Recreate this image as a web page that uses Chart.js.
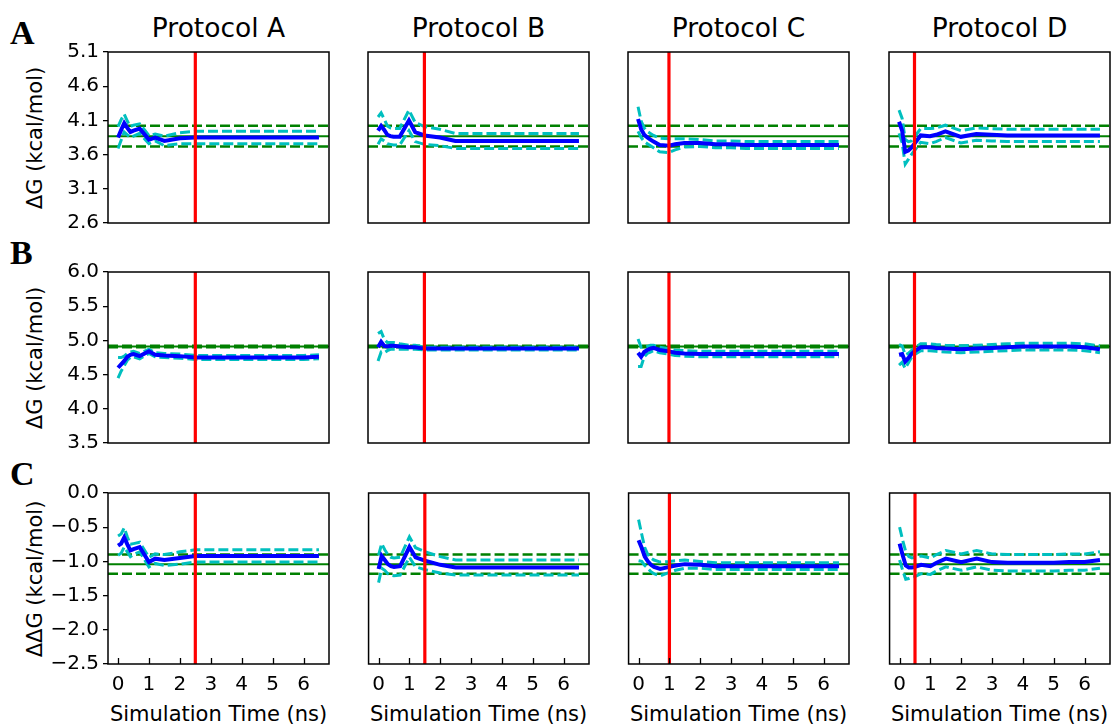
<!DOCTYPE html>
<html>
<head>
<meta charset="utf-8">
<script src="https://cdn.jsdelivr.net/npm/chart.js"></script>
<style>
  html, body { margin: 0; padding: 0; background: #fff; overflow: hidden; }
  #fig { position: relative; width: 1111px; height: 728px; font-family: "DejaVu Sans", sans-serif; color: #000; }
  .cv { position: absolute; }
  .title { position: absolute; font-size: 26.5px; line-height: 26px; text-align: center; width: 221px; white-space: nowrap; }
  .xlab { position: absolute; font-size: 21px; line-height: 20px; text-align: center; width: 260px; white-space: nowrap; }
  .ylab { position: absolute; font-size: 21px; line-height: 20px; white-space: nowrap; transform: translate(-50%, -50%) rotate(-90deg); }
  .letter { position: absolute; font-family: "Liberation Serif", serif; font-weight: bold; font-size: 34px; line-height: 34px; }
</style>
</head>
<body>
<div id="fig"></div>
<script>
// sampling times (ns)
var times = [0, 0.1, 0.2, 0.3, 0.4, 0.5, 0.7, 1.0, 1.2, 1.5, 2.0, 2.5, 3.0, 3.5, 4.0, 4.5, 5.0, 5.5, 6.0, 6.5];

var protocols = ['Protocol A', 'Protocol B', 'Protocol C', 'Protocol D'];
var rowLetters = ['A', 'B', 'C'];
var yTitles = ['\u0394G (kcal/mol)', '\u0394G (kcal/mol)', '\u0394\u0394G (kcal/mol)'];
var xTitle = 'Simulation Time (ns)';

// equilibration cut-off per protocol (red line)
var cutoffs = [2.5, 1.5, 1.0, 0.5];
// reference value and its error per row (green lines)
var refValues = [3.87, 4.91, -1.04];
var refErrors = [0.15, 0.01, 0.14];

var xTicks = [0, 1, 2, 3, 4, 5, 6];
var yTicksA = [2.6, 3.1, 3.6, 4.1, 4.6, 5.1];
var yTicksB = [3.5, 4.0, 4.5, 5.0, 5.5, 6.0];
var yTicksC = [-2.5, -2.0, -1.5, -1.0, -0.5, 0.0];

// row A
var meanA_pA = [3.85, 3.96, 4.06, 3.99, 3.93, 3.95, 3.98, 3.82, 3.85, 3.80, 3.84, 3.85, 3.85, 3.85, 3.85, 3.85, 3.85, 3.85, 3.85, 3.85];
var errA_pA  = [0.16, 0.15, 0.13, 0.10, 0.08, 0.08, 0.07, 0.06, 0.05, 0.07, 0.08, 0.09, 0.09, 0.09, 0.09, 0.09, 0.09, 0.09, 0.09, 0.09];
var meanA_pB = [3.95, 4.02, 3.96, 3.89, 3.87, 3.86, 3.86, 4.10, 3.93, 3.88, 3.85, 3.80, 3.80, 3.80, 3.80, 3.80, 3.80, 3.80, 3.80, 3.80];
var errA_pB  = [0.20, 0.19, 0.16, 0.13, 0.12, 0.12, 0.12, 0.15, 0.14, 0.13, 0.12, 0.11, 0.11, 0.11, 0.11, 0.11, 0.11, 0.11, 0.11, 0.11];
var meanA_pC = [4.12, 3.97, 3.89, 3.85, 3.82, 3.79, 3.74, 3.73, 3.75, 3.77, 3.77, 3.75, 3.75, 3.74, 3.74, 3.74, 3.74, 3.74, 3.74, 3.74];
var errA_pC  = [0.18, 0.12, 0.10, 0.09, 0.09, 0.09, 0.10, 0.10, 0.08, 0.06, 0.05, 0.05, 0.05, 0.05, 0.05, 0.05, 0.05, 0.05, 0.05, 0.05];
var meanA_pD = [4.08, 3.95, 3.64, 3.66, 3.70, 3.76, 3.88, 3.87, 3.89, 3.94, 3.86, 3.90, 3.89, 3.88, 3.88, 3.88, 3.88, 3.88, 3.88, 3.88];
var errA_pD  = [0.17, 0.18, 0.18, 0.13, 0.10, 0.10, 0.10, 0.11, 0.10, 0.09, 0.09, 0.09, 0.09, 0.09, 0.09, 0.09, 0.09, 0.09, 0.09, 0.09];

// row B
var meanB_pA = [4.60, 4.65, 4.70, 4.76, 4.79, 4.80, 4.77, 4.84, 4.79, 4.78, 4.77, 4.75, 4.75, 4.75, 4.75, 4.75, 4.75, 4.75, 4.75, 4.76];
var errB_pA  = [0.15, 0.10, 0.07, 0.05, 0.04, 0.04, 0.04, 0.03, 0.03, 0.03, 0.03, 0.03, 0.03, 0.03, 0.03, 0.03, 0.03, 0.03, 0.03, 0.03];
var meanB_pB = [4.90, 4.98, 4.92, 4.91, 4.92, 4.92, 4.91, 4.90, 4.90, 4.88, 4.88, 4.88, 4.88, 4.88, 4.88, 4.88, 4.88, 4.88, 4.88, 4.88];
var errB_pB  = [0.20, 0.15, 0.10, 0.06, 0.05, 0.05, 0.04, 0.03, 0.03, 0.02, 0.02, 0.02, 0.02, 0.02, 0.02, 0.02, 0.02, 0.02, 0.02, 0.02];
var meanB_pC = [4.82, 4.76, 4.83, 4.86, 4.88, 4.89, 4.86, 4.84, 4.82, 4.81, 4.80, 4.80, 4.80, 4.80, 4.80, 4.80, 4.80, 4.80, 4.80, 4.80];
var errB_pC  = [0.20, 0.14, 0.07, 0.05, 0.05, 0.04, 0.04, 0.04, 0.04, 0.04, 0.04, 0.04, 0.04, 0.04, 0.04, 0.04, 0.04, 0.04, 0.04, 0.04];
var meanB_pD = [4.79, 4.80, 4.69, 4.74, 4.80, 4.84, 4.90, 4.90, 4.89, 4.88, 4.87, 4.88, 4.89, 4.90, 4.91, 4.91, 4.91, 4.91, 4.90, 4.87];
var errB_pD  = [0.15, 0.12, 0.10, 0.07, 0.05, 0.05, 0.05, 0.05, 0.05, 0.05, 0.05, 0.05, 0.05, 0.05, 0.05, 0.05, 0.05, 0.05, 0.05, 0.05];

// row C
var meanC_pA = [-0.77, -0.74, -0.65, -0.75, -0.84, -0.82, -0.79, -1.01, -0.96, -0.98, -0.95, -0.92, -0.92, -0.92, -0.92, -0.92, -0.92, -0.92, -0.92, -0.92];
var errC_pA  = [0.14, 0.14, 0.14, 0.11, 0.09, 0.08, 0.07, 0.07, 0.07, 0.08, 0.09, 0.09, 0.09, 0.09, 0.09, 0.09, 0.09, 0.09, 0.09, 0.09];
var meanC_pB = [-1.11, -0.92, -0.98, -1.04, -1.07, -1.08, -1.07, -0.79, -0.94, -0.99, -1.05, -1.09, -1.09, -1.09, -1.09, -1.09, -1.09, -1.09, -1.09, -1.09];
var errC_pB  = [0.20, 0.18, 0.15, 0.14, 0.13, 0.13, 0.13, 0.15, 0.14, 0.13, 0.12, 0.11, 0.11, 0.11, 0.11, 0.11, 0.11, 0.11, 0.11, 0.11];
var meanC_pC = [-0.69, -0.80, -0.93, -1.00, -1.05, -1.08, -1.11, -1.08, -1.06, -1.04, -1.05, -1.07, -1.07, -1.07, -1.07, -1.07, -1.07, -1.07, -1.07, -1.07];
var errC_pC  = [0.30, 0.20, 0.13, 0.10, 0.10, 0.10, 0.10, 0.08, 0.07, 0.06, 0.05, 0.05, 0.05, 0.05, 0.05, 0.05, 0.05, 0.05, 0.05, 0.05];
var meanC_pD = [-0.74, -0.91, -1.06, -1.09, -1.09, -1.08, -1.05, -1.07, -1.02, -0.96, -1.01, -0.96, -1.01, -1.02, -1.02, -1.02, -1.02, -1.01, -1.01, -0.98];
var errC_pD  = [0.24, 0.22, 0.20, 0.16, 0.14, 0.14, 0.13, 0.12, 0.12, 0.12, 0.12, 0.12, 0.12, 0.12, 0.12, 0.12, 0.12, 0.12, 0.12, 0.12];

var means = [[meanA_pA, meanA_pB, meanA_pC, meanA_pD], [meanB_pA, meanB_pB, meanB_pC, meanB_pD], [meanC_pA, meanC_pB, meanC_pC, meanC_pD]];
var errs  = [[errA_pA, errA_pB, errA_pC, errA_pD], [errB_pA, errB_pB, errB_pC, errB_pD], [errC_pA, errC_pB, errC_pC, errC_pD]];
var yTicks = [yTicksA, yTicksB, yTicksC];

// layout of the plot boxes
var XMIN = -0.325, XMAX = 6.825;
var boxLeft = [108, 368, 628, 889];
var boxTop = [52, 272, 493];
var boxW = 221, boxH = 171;

var fig = document.getElementById('fig');

function addDiv(cls, text, css) {
  var d = document.createElement('div');
  d.className = cls;
  d.textContent = text;
  for (var k in css) d.style[k] = css[k];
  fig.appendChild(d);
}

function fmt(v) {
  var s = v.toFixed(1);
  return s.charAt(0) === '-' ? '\u2212' + s.slice(1) : s;
}

var framePlugin = {
  id: 'frame',
  afterDraw: function (chart, args, opts) {
    var ctx = chart.ctx, a = chart.chartArea;
    ctx.save();
    ctx.strokeStyle = '#000';
    ctx.lineWidth = 1.5;
    ctx.strokeRect(a.left, a.top, a.right - a.left, a.bottom - a.top);
    if (opts.insideTicks) {
      ctx.lineWidth = 1.3;
      ctx.beginPath();
      xTicks.forEach(function (v) {
        var px = Math.round(chart.scales.x.getPixelForValue(v)) + 0.5;
        ctx.moveTo(px, a.bottom);
        ctx.lineTo(px, a.bottom - 6);
      });
      ctx.stroke();
    }
    ctx.restore();
  }
};

protocols.forEach(function (p, c) {
  addDiv('title', p, { left: boxLeft[c] + 'px', top: '15px' });
  addDiv('xlab', xTitle, { left: (boxLeft[c] + boxW / 2 - 130) + 'px', top: '704px' });
});
rowLetters.forEach(function (L, r) {
  addDiv('letter', L, { left: '10px', top: (boxTop[r] - 36) + 'px' });
  addDiv('ylab', yTitles[r], { left: '35px', top: (boxTop[r] + boxH / 2) + 'px' });
});

for (var r = 0; r < 3; r++) {
  for (var c = 0; c < 4; c++) {
    (function (r, c) {
      var showX = r === 2, showY = c === 0;
      var padL = showY ? 75 : 5;
      var padT = 16, padR = 2;
      var padB = showX ? 45 : 16;
      var ymin = yTicks[r][0], ymax = yTicks[r][yTicks[r].length - 1];

      var canvas = document.createElement('canvas');
      canvas.className = 'cv';
      canvas.width = padL + boxW + padR;
      canvas.height = padT + boxH + padB;
      canvas.style.left = (boxLeft[c] - padL) + 'px';
      canvas.style.top = (boxTop[r] - padT) + 'px';
      fig.appendChild(canvas);

      var m = means[r][c], e = errs[r][c];
      var upper = times.map(function (t, i) { return { x: t, y: m[i] + e[i] }; });
      var lower = times.map(function (t, i) { return { x: t, y: m[i] - e[i] }; });
      var mean = times.map(function (t, i) { return { x: t, y: m[i] }; });
      var ref = refValues[r], refE = refErrors[r];

      var base = { pointRadius: 0, tension: 0, fill: false, clip: 0 };
      function ds(o) { return Object.assign({}, base, o); }

      new Chart(canvas.getContext('2d'), {
        type: 'line',
        data: {
          datasets: [
            ds({ data: [{ x: cutoffs[c], y: ymin }, { x: cutoffs[c], y: ymax }], borderColor: '#ff0000', borderWidth: 3.2 }),
            ds({ data: mean, borderColor: '#0000ff', borderWidth: 4 }),
            ds({ data: upper, borderColor: '#00bfbf', borderWidth: 3, borderDash: [10, 4] }),
            ds({ data: lower, borderColor: '#00bfbf', borderWidth: 3, borderDash: [10, 4] }),
            ds({ data: [{ x: XMIN, y: ref }, { x: XMAX, y: ref }], borderColor: '#008000', borderWidth: 2 }),
            ds({ data: [{ x: XMIN, y: ref + refE }, { x: XMAX, y: ref + refE }], borderColor: '#008000', borderWidth: 2.5, borderDash: [10, 4] }),
            ds({ data: [{ x: XMIN, y: ref - refE }, { x: XMAX, y: ref - refE }], borderColor: '#008000', borderWidth: 2.5, borderDash: [10, 4] })
          ]
        },
        options: {
          responsive: false,
          animation: false,
          devicePixelRatio: 1,
          events: [],
          layout: { padding: { top: padT, right: padR, bottom: showX ? 0 : padB, left: showY ? 0 : padL } },
          plugins: { legend: { display: false }, tooltip: { enabled: false }, frame: { insideTicks: showX } },
          scales: {
            x: {
              type: 'linear', min: XMIN, max: XMAX,
              display: showX,
              afterBuildTicks: function (s) { s.ticks = xTicks.map(function (v) { return { value: v }; }); },
              afterFit: function (s) { s.height = showX ? padB : 0; },
              grid: { display: false, drawTicks: false },
              border: { display: false },
              ticks: { color: '#000', font: { family: 'DejaVu Sans', size: 20 }, padding: 9, maxRotation: 0,
                       callback: function (v) { return String(v); } }
            },
            y: {
              type: 'linear', min: ymin, max: ymax,
              display: showY,
              afterBuildTicks: function (s) { s.ticks = yTicks[r].map(function (v) { return { value: v }; }); },
              afterFit: function (s) { s.width = showY ? padL : 0; },
              grid: { drawOnChartArea: false, drawTicks: true, tickLength: 5, color: '#000', lineWidth: 1.3 },
              border: { display: false },
              ticks: { color: '#000', font: { family: 'DejaVu Sans', size: 20 }, padding: 4,
                       callback: function (v) { return fmt(v); } }
            }
          }
        },
        plugins: [framePlugin]
      });
    })(r, c);
  }
}
</script>
</body>
</html>
